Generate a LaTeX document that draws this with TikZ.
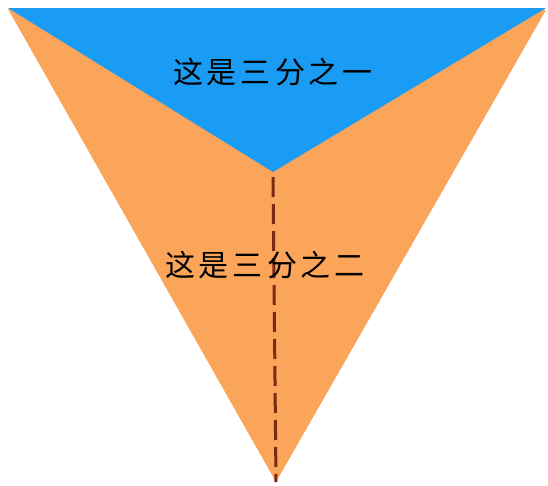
\documentclass[tikz,border=0pt]{standalone}
\usepackage{fontspec}
\newfontfamily\cjk{Noto Sans CJK SC}
\definecolor{blueR}{HTML}{1A9CF4}
\definecolor{orangeR}{HTML}{FBA55A}
\definecolor{dashR}{HTML}{7A2A12}
\begin{document}
\begin{tikzpicture}[x=1pt,y=-1pt,
  lbl/.style={font=\cjk\fontsize{30}{34}\selectfont, text=black, inner sep=0pt}]
\useasboundingbox (0,0) rectangle (548,485);
\coordinate (tl) at (8,9);
\coordinate (tr) at (546,10);
\coordinate (bt) at (276,482);
\coordinate (mid) at (273,172);
\coordinate (ds) at (273,177);
\fill[orangeR] (tl) -- (tr) -- (bt) -- cycle;
\fill[blueR] (8,8) -- (546,8) -- (mid) -- cycle;
\draw[dashR, line width=3pt, dash pattern=on 20pt off 7pt] (ds) -- (bt);
\node[lbl] (t1) at (273,72) {这\hspace{4pt}是\hspace{4pt}三\hspace{4pt}分\hspace{4pt}之\hspace{4pt}一};
\node[lbl] (t2) at (265,265) {这\hspace{4pt}是\hspace{4pt}三\hspace{4pt}分\hspace{4pt}之\hspace{4pt}二};
\end{tikzpicture}
\end{document}
